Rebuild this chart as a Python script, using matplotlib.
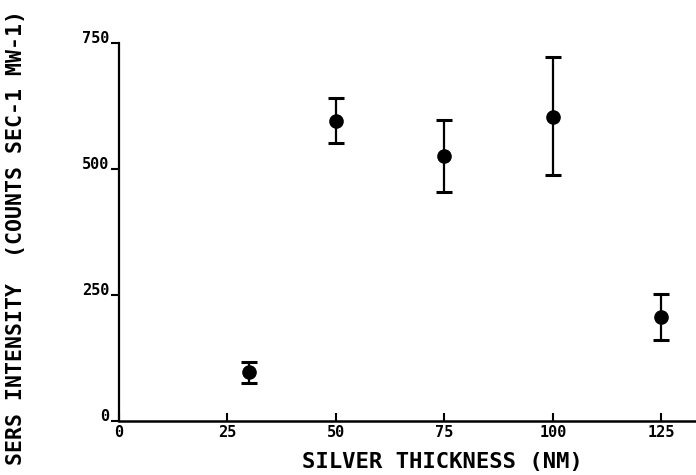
import numpy as np
import matplotlib.pyplot as plt

# silver film thickness (nm) vs SERS intensity
thickness = [30, 50, 75, 100, 125]
intensity = [98, 596, 526, 604, 206]
err_low = [76, 552, 454, 488, 160]
err_high = [118, 640, 598, 723, 252]

xticks = [0, 25, 50, 75, 100, 125]
yticks = [0, 250, 500, 750]

font = {'family': 'DejaVu Sans Mono', 'weight': 'bold'}

fig = plt.figure(figsize=(6.96, 4.75), dpi=100)
ax = fig.add_axes([0.171, 0.1137, 0.829, 0.7958])

yerr = [np.array(intensity) - np.array(err_low), np.array(err_high) - np.array(intensity)]
ax.errorbar(thickness, intensity, yerr=yerr, fmt='o', color='k', ms=9.5,
            elinewidth=1.6, capsize=5.5, capthick=2.2, clip_on=False)

ax.set_xlim(0, 133)
ax.set_ylim(0, 750)
ax.spines['top'].set_visible(False)
ax.spines['right'].set_visible(False)
ax.spines['left'].set_linewidth(1.6)
ax.spines['bottom'].set_linewidth(1.8)

ax.set_xticks(xticks)
ax.set_xticklabels([str(t) for t in xticks], fontdict=font, fontsize=11)
ax.set_yticks(yticks)
ax.set_yticklabels([str(t) for t in yticks], fontdict=font, fontsize=11)
ax.tick_params(axis='x', direction='in', length=6, width=1.5, pad=3)
ax.tick_params(axis='y', direction='out', length=6, width=1.5, pad=1)
for lab in ax.get_yticklabels():
    lab.set_verticalalignment('baseline')

fig.text(442 / 696, 0.027, 'SILVER THICKNESS (NM)', ha='center', va='center',
         fontsize=16, **font)
fig.text(16 / 696, 0.5, 'SERS INTENSITY  (COUNTS SEC-1 MW-1)', ha='center', va='center',
         rotation=90, fontsize=15.5, **font)

plt.savefig('out.png', dpi=100)
